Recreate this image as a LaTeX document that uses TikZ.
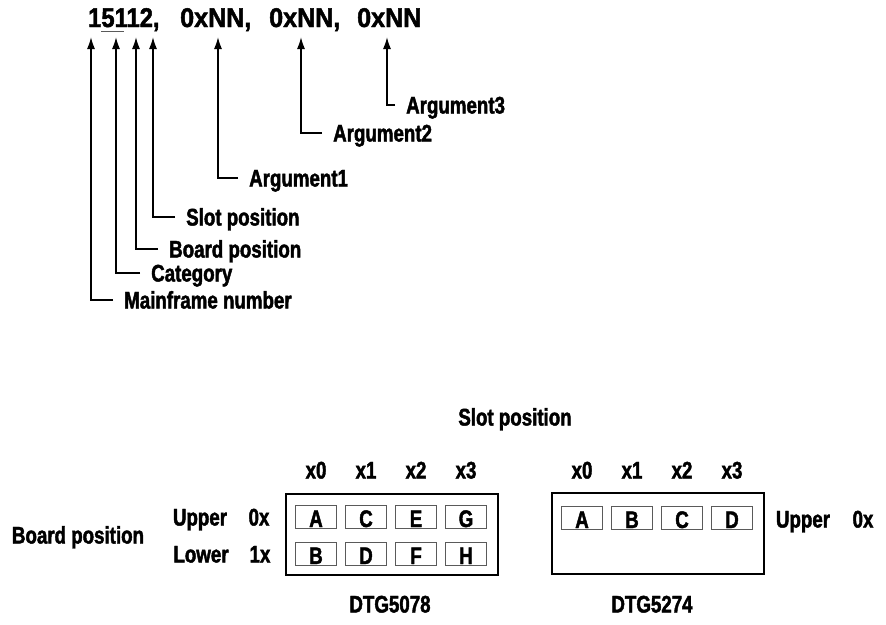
\documentclass[tikz,border=0pt]{standalone}
\usepackage{fontspec}
\setmainfont{Liberation Sans}[FakeStretch=0.78, BoldFeatures={FakeBold=1.8}]
\newfontfamily\codefont{Liberation Sans}[FakeStretch=0.88, BoldFeatures={FakeBold=1.8}]
\newfontfamily\hexfont{Liberation Sans}[FakeStretch=0.93, BoldFeatures={FakeBold=1.8}]
\usetikzlibrary{arrows.meta}
\definecolor{slotgray}{RGB}{90, 90, 90}
\tikzstyle{code} = [font=\codefont\bfseries\fontsize{27}{29}\selectfont, anchor=base west, inner sep=0pt]
\tikzstyle{hexcode} = [code, font=\hexfont\bfseries\fontsize{27}{29}\selectfont]
\tikzstyle{callout} = [font=\bfseries\fontsize{24}{26}\selectfont, anchor=west, inner xsep=11pt,
                       inner ysep=0pt, text height=17pt, text depth=0pt]
\tikzstyle{tag} = [font=\bfseries\fontsize{24}{26}\selectfont, inner sep=0pt, text height=17pt, text depth=0pt]
\tikzstyle{pointer} = [-{Latex[length=12pt, width=8pt]}, line width=1.6pt]
\tikzstyle{frame} = [rectangle, draw, line width=1.6pt, minimum width=212pt, minimum height=81pt, inner sep=0pt]
\tikzstyle{slotbox} = [rectangle, draw=slotgray, line width=1pt, minimum width=41pt, minimum height=23pt,
                       inner sep=0pt, font=\bfseries\fontsize{24}{26}\selectfont, text height=21pt, text depth=0pt]

\begin{document}
\begin{tikzpicture}[x=1pt, y=-1pt]
\useasboundingbox (0,0) rectangle (886,624);

% Command line
\node[code] (num) at (88,27) {15112,};
\node[hexcode] (argA) at (180,27) {0xNN,};
\node[hexcode] (argB) at (269,27) {0xNN,};
\node[hexcode] (argC) at (357,27) {0xNN};
\draw[slotgray, line width=0.8pt] (101,31) -- (124,31);

% Arrow tips
\coordinate (tMain) at (91,37);
\coordinate (tCat) at (116,37);
\coordinate (tBoard) at (136,37);
\coordinate (tSlot) at (153,37);
\coordinate (tArg1) at (218,37);
\coordinate (tArg2) at (301,37);
\coordinate (tArg3) at (387,37);

% Callouts
\node[callout] (lMain) at (113,300) {Mainframe number};
\node[callout] (lCat) at (140,273) {Category};
\node[callout] (lBoard) at (158,249) {Board position};
\node[callout] (lSlot) at (175,217) {Slot position};
\node[callout] (lArg1) at (238,178) {Argument1};
\node[callout] (lArg2) at (322,133) {Argument2};
\node[callout] (lArg3) at (395,105) {Argument3};

\draw[pointer] (lMain.west) -| (tMain);
\draw[pointer] (lCat.west) -| (tCat);
\draw[pointer] (lBoard.west) -| (tBoard);
\draw[pointer] (lSlot.west) -| (tSlot);
\draw[pointer] (lArg1.west) -| (tArg1);
\draw[pointer] (lArg2.west) -| (tArg2);
\draw[pointer] (lArg3.west) -| (tArg3);

% Slot layout
\node[tag] (slothead) at (515,417) {Slot position};
\node[tag] (boardhead) at (78,535) {Board position};

\node[frame] (f5078) at (392,534.5) {};
\node[frame] (f5274) at (658,533.5) {};

\foreach \u/\l [count=\i from 0] in {A/B, C/D, E/F, G/H} {
    \node[slotbox] (s\u) at (316+50*\i,516.5) {\u};
    \node[slotbox] (s\l) at (316+50*\i,553.5) {\l};
    \node[tag] (cx\i) at (316+50*\i,470) {x\i};
}
\foreach \u [count=\i from 0] in {A, B, C, D} {
    \node[slotbox] (r\u) at (582+50*\i,517.5) {\u};
    \node[tag] (rx\i) at (582+50*\i,470) {x\i};
}

\node[tag] (upA) at (200,517) {Upper};
\node[tag] (hexA) at (259,517) {0x};
\node[tag] (loA) at (201,554) {Lower};
\node[tag] (hexB) at (260,554) {1x};
\node[tag] (upB) at (803,519) {Upper};
\node[tag] (hexC) at (863,519) {0x};

\node[tag] (dtgA) at (390,604) {DTG5078};
\node[tag] (dtgB) at (652,604) {DTG5274};

\end{tikzpicture}
\end{document}
